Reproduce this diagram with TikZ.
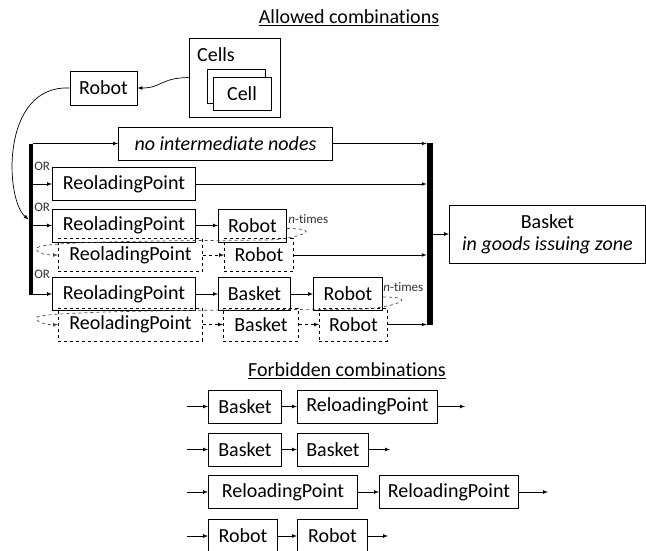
\documentclass[tikz,border=0pt]{standalone}
\usepackage{fontspec}
\setmainfont{Carlito}[Ligatures={NoCommon}]
\tikzset{
  box/.style={draw, line width=0.9pt, minimum height=33pt, inner sep=0pt, font=\fontsize{20}{23}\selectfont},
  dbox/.style={box, dashed},
  bar/.style={fill=black, inner sep=0pt},
  lbl/.style={inner sep=0pt, text=black!80, font=\fontsize{13}{14}\selectfont},
  loopline/.style={->, dashed, black!70},
}
\begin{document}
\begin{tikzpicture}[>=latex, x=1pt, y=-1pt, line width=0.7pt]
\useasboundingbox (0,0) rectangle (646,551);

% allowed
\node[inner sep=0pt, font=\fontsize{20}{23}\selectfont] (tallow) at (349,18) {\underline{Allowed combinations}};

\node[box, minimum width=91pt, minimum height=79pt] (cells) at (234.5,77.5) {};
\node[inner sep=0pt, font=\fontsize{20}{23}\selectfont] (cellstxt) at (216,55) {Cells};
\node[box, fill=white, minimum width=58pt, minimum height=34pt] (cellback) at (236,86) {};
\node[box, fill=white, minimum width=58pt] (cell) at (242,93.5) {Cell};
\node[box, minimum width=67pt, minimum height=34pt] (robot) at (103.5,88) {Robot};
\draw[->] (cells.west) .. controls (160,78) and (162,88) .. (robot.east);

\node[bar, minimum width=4pt, minimum height=151pt] (lbar) at (31,219.5) {};
\node[bar, minimum width=6pt, minimum height=182pt] (rbar) at (430,234) {};
\draw[->] (robot.west) .. controls (0,85) and (5,200) .. (lbar.west);

\node[box, anchor=west, minimum width=214pt, font=\fontsize{20}{23}\selectfont\itshape] (noint) at (118,143.5) {no intermediate nodes};
\node[box, anchor=west, minimum width=143pt] (rp2) at (52,184) {ReoladingPoint};
\node[box, anchor=west, minimum width=143pt] (rp3) at (52,225.5) {ReoladingPoint};
\node[box, anchor=west, minimum width=68pt] (rob3) at (218,225.5) {Robot};
\node[dbox, anchor=west, minimum width=144pt] (rp3b) at (58,255) {ReoladingPoint};
\node[dbox, anchor=west, minimum width=69pt] (rob3b) at (224,255) {Robot};
\node[box, anchor=west, minimum width=143pt] (rp4) at (52,294) {ReoladingPoint};
\node[box, anchor=west, minimum width=72pt] (bas4) at (218,294) {Basket};
\node[box, anchor=west, minimum width=69pt] (rob4) at (313,294) {Robot};
\node[dbox, anchor=west, minimum width=144pt] (rp4b) at (58,324.5) {ReoladingPoint};
\node[dbox, anchor=west, minimum width=75pt] (bas4b) at (223,324.5) {Basket};
\node[dbox, anchor=west, minimum width=68pt] (rob4b) at (319,324.5) {Robot};

\node[lbl, anchor=west] (or1) at (34,166) {OR};
\node[lbl, anchor=west] (or2) at (34,207) {OR};
\node[lbl, anchor=west] (or3) at (34,274) {OR};
\node[lbl, anchor=west] (nt3) at (288,219) {\itshape n\upshape-times};
\node[lbl, anchor=west] (nt4) at (383,287) {\itshape n\upshape-times};

\draw[->] (lbar.east |- noint.west) -- (noint.west);
\draw[->] (noint.east) -- (rbar.west |- noint.east);
\draw[->] (lbar.east |- rp2.west) -- (rp2.west);
\draw[->] (rp2.east) -- (rbar.west |- rp2.east);
\draw[->] (lbar.east |- rp3.west) -- (rp3.west);
\draw[->] (rp3) -- (rob3);
\draw[->, dashed] (rp3b) -- (rob3b);
\draw[->] (rob3b.east) -- (rbar.west |- rob3b.east);
\draw[->] (lbar.east |- rp4.west) -- (rp4.west);
\draw[->] (rp4) -- (bas4);
\draw[->] (bas4) -- (rob4);
\draw[->, dashed] (rp4b) -- (bas4b);
\draw[->, dashed] (bas4b) -- (rob4b);
\draw[->] (rob4b.east) -- (rbar.west |- rob4b.east);

\draw[loopline] ([yshift=-3pt]rob3.east) .. controls +(38,0) and +(30,-2) .. (270,240)
  .. controls (120,241) and (35,242) .. (36,249) .. controls (37,254) and (48,255) .. (rp3b.west);
\draw[loopline] ([yshift=-3pt]rob4.east) .. controls +(38,0) and +(30,-2) .. (365,309)
  .. controls (200,310) and (35,311) .. (36,318) .. controls (37,323) and (48,325) .. (rp4b.west);

\node[box, anchor=west, minimum width=196pt, minimum height=58pt, align=center] (basket) at (449,234) {Basket\\[-1pt]\itshape in goods issuing zone};
\draw[->] (rbar.east) -- (basket.west);

% forbidden
\node[inner sep=0pt, font=\fontsize{20}{23}\selectfont] (tforb) at (347,371) {\underline{Forbidden combinations}};

\foreach \i/\y/\ta/\wa/\tb/\xb/\wb/\xe in {
  1/406.5/Basket/73/ReloadingPoint/297/140/465,
  2/449.5/Basket/73/Basket/297/71/390,
  3/492/ReloadingPoint/149/ReloadingPoint/379/139/548,
  4/536/Robot/69/Robot/297/70/388}
{
  \coordinate (fin\i) at (187,\y);
  \coordinate (fout\i) at (\xe,\y);
  \node[box, anchor=west, minimum width=\wa pt] (fa\i) at (208,\y) {\ta};
  \node[box, anchor=west, minimum width=\wb pt] (fb\i) at (\xb,\y) {\tb};
  \draw[->] (fin\i) -- (fa\i);
  \draw[->] (fa\i) -- (fb\i);
  \draw[->] (fb\i) -- (fout\i);
}

\end{tikzpicture}
\end{document}
